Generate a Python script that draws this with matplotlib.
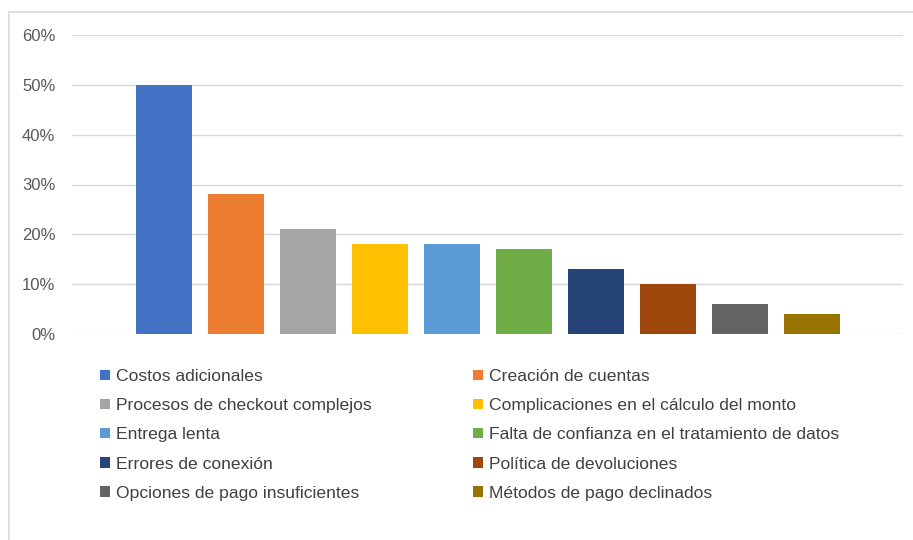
import matplotlib.pyplot as plt
from matplotlib.patches import Patch, Rectangle
from matplotlib.ticker import FuncFormatter

# === Datos ===
categorias = [
    "Costos adicionales",
    "Creación de cuentas",
    "Procesos de checkout complejos",
    "Complicaciones en el cálculo del monto",
    "Entrega lenta",
    "Falta de confianza en el tratamiento de datos",
    "Errores de conexión",
    "Política de devoluciones",
    "Opciones de pago insuficientes",
    "Métodos de pago declinados",
]
valores = [0.50, 0.28, 0.21, 0.18, 0.18, 0.17, 0.13, 0.10, 0.06, 0.04]
colores = ["#4472C4", "#ED7D31", "#A5A5A5", "#FFC000", "#5B9BD5",
           "#70AD47", "#264478", "#9E480E", "#636363", "#997300"]
ticks_y = [0, 0.1, 0.2, 0.3, 0.4, 0.5, 0.6]

plt.rcParams['font.family'] = ['Liberation Sans', 'DejaVu Sans']

W, H = 913, 540
fig = plt.figure(figsize=(W / 100, H / 100), dpi=100)

# marco del gráfico
fig.patches.append(Rectangle((9 / W, -0.05), 1.1, (H - 12) / H + 0.05,
                             transform=fig.transFigure, fill=False,
                             edgecolor="#D9D9D9", linewidth=1.2))

ax = fig.add_axes([72 / W, (H - 334) / H, 831 / W, 299 / H])
x = list(range(len(valores)))
ax.bar(x, valores, width=56 / 72, color=colores, zorder=3)

ax.set_xlim(-1.278, 10.264)
ax.set_ylim(0, 0.6)
ax.set_yticks(ticks_y)
ax.yaxis.set_major_formatter(FuncFormatter(lambda v, p: f"{v * 100:.0f}%"))
ax.tick_params(axis='y', length=0, pad=12, labelsize=12, labelcolor="#595959")
ax.set_xticks([])
ax.grid(axis='y', color="#D9D9D9", linewidth=1, zorder=0)
for s in ax.spines.values():
    s.set_visible(False)

# === Leyenda en dos columnas ===
handles = [Patch(facecolor=c) for c in colores]
opts = dict(frameon=False, fontsize=12.6, labelcolor="#404040",
            handlelength=0.55, handleheight=0.55, handletextpad=0.35,
            labelspacing=0.81, borderpad=0, borderaxespad=0, loc="upper left")
leg1 = fig.legend([handles[i] for i in range(0, 10, 2)],
                  [categorias[i] for i in range(0, 10, 2)],
                  bbox_to_anchor=(100 / W, 1 - 369 / H), **opts)
leg2 = fig.legend([handles[i] for i in range(1, 10, 2)],
                  [categorias[i] for i in range(1, 10, 2)],
                  bbox_to_anchor=(473 / W, 1 - 369 / H), **opts)

fig.savefig("out.png", dpi=100)
